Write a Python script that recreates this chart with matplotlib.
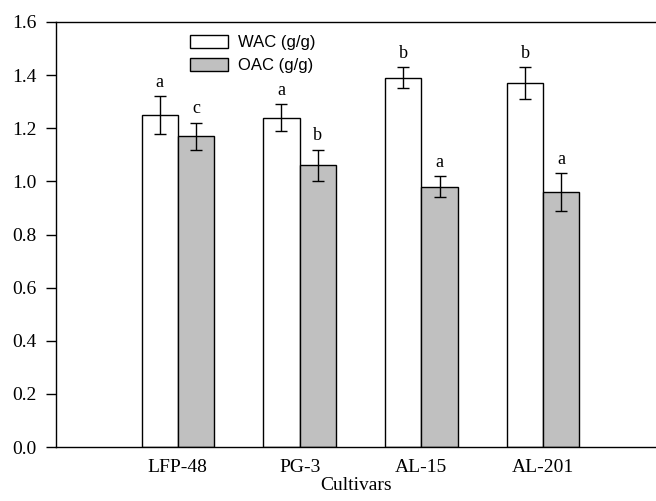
import matplotlib
matplotlib.use("Agg")
import matplotlib.pyplot as plt
import numpy as np

cultivars = ["LFP-48", "PG-3", "AL-15", "AL-201"]
wac = [1.25, 1.24, 1.39, 1.37]
wac_err = [0.07, 0.05, 0.04, 0.06]
oac = [1.17, 1.06, 0.98, 0.96]
oac_err = [0.05, 0.06, 0.04, 0.07]
wac_letters = ["a", "a", "b", "b"]
oac_letters = ["c", "b", "a", "a"]
yticks = [0.0, 0.2, 0.4, 0.6, 0.8, 1.0, 1.2, 1.4, 1.6]

serif = ["Liberation Serif", "DejaVu Serif"]
sans = ["Liberation Sans", "DejaVu Sans"]

fig = plt.figure(figsize=(6.56, 5.01), dpi=100)
ax = fig.add_axes([56/656, 1 - 447/501, 600/656, 425/501])

x = np.arange(1, len(cultivars) + 1)
w = 0.298
ax.bar(x - w/2, wac, w, color="white", edgecolor="black", linewidth=1.0,
       label="WAC (g/g)", zorder=2)
ax.bar(x + w/2, oac, w, color="#c0c0c0", edgecolor="black", linewidth=1.0,
       label="OAC (g/g)", zorder=2)
ax.errorbar(x - w/2, wac, yerr=wac_err, fmt="none", ecolor="black",
            elinewidth=1.0, capsize=4, capthick=1.0, zorder=3)
ax.errorbar(x + w/2, oac, yerr=oac_err, fmt="none", ecolor="black",
            elinewidth=1.0, capsize=4, capthick=1.0, zorder=3)

for xi, v, e, t in zip(x - w/2, wac, wac_err, wac_letters):
    ax.annotate(t, (xi, v + e), xytext=(0, 4), textcoords="offset points",
                ha="center", va="bottom", family=serif, fontsize=13)
for xi, v, e, t in zip(x + w/2, oac, oac_err, oac_letters):
    ax.annotate(t, (xi, v + e), xytext=(0, 4), textcoords="offset points",
                ha="center", va="bottom", family=serif, fontsize=13)

ax.set_xlim(0, 600/121.8)
ax.set_ylim(0, 1.6)
ax.set_xticks(x)
ax.set_xticklabels(cultivars, family=serif, fontsize=14)
ax.tick_params(axis="x", length=0, pad=9)
ax.set_yticks(yticks)
ax.set_yticklabels([f"{t:.1f}" for t in yticks], family=serif, fontsize=14)
ax.tick_params(axis="y", direction="out", length=7, width=1, pad=7)
ax.spines["right"].set_visible(False)
for s in ["left", "top", "bottom"]:
    ax.spines[s].set_linewidth(1.0)

ax.set_xlabel("Cultivars", family=serif, fontsize=14, labelpad=0)

ax.legend(loc="upper left", bbox_to_anchor=(134/600, 1 - 13/425),
          frameon=False, prop={"family": sans, "size": 12},
          handlelength=2.3, handleheight=0.85, handletextpad=0.55,
          labelspacing=0.45, borderpad=0, borderaxespad=0)

fig.savefig("out.png", dpi=100)
